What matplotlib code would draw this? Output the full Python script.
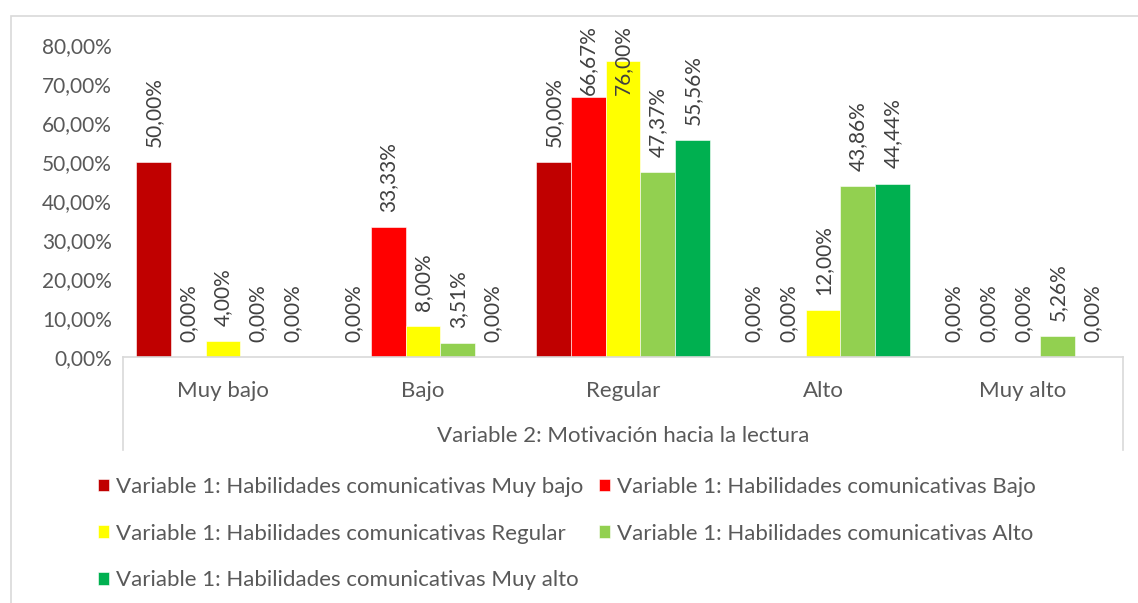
import numpy as np
import matplotlib.pyplot as plt
from matplotlib.patches import Rectangle
from matplotlib.lines import Line2D

plt.rcParams['font.family'] = ['Lato', 'DejaVu Sans']

categories = ['Muy bajo', 'Bajo', 'Regular', 'Alto', 'Muy alto']
series_names = [
    'Variable 1: Habilidades comunicativas Muy bajo',
    'Variable 1: Habilidades comunicativas Bajo',
    'Variable 1: Habilidades comunicativas Regular',
    'Variable 1: Habilidades comunicativas Alto',
    'Variable 1: Habilidades comunicativas Muy alto',
]
muy_bajo = [0.50, 0.0, 0.50, 0.0, 0.0]
bajo = [0.0, 0.3333, 0.6667, 0.0, 0.0]
regular = [0.04, 0.08, 0.76, 0.12, 0.0]
alto = [0.0, 0.0351, 0.4737, 0.4386, 0.0526]
muy_alto = [0.0, 0.0, 0.5556, 0.4444, 0.0]
colors = ['#C00000', '#FF0000', '#FFFF00', '#92D050', '#00B050']

series = [muy_bajo, bajo, regular, alto, muy_alto]

fig = plt.figure(figsize=(11.38, 6.03), dpi=100)
fig.patches.append(Rectangle((11 / 1138, -0.1), 1.2, 1.1 - 16 / 603, transform=fig.transFigure,
                             fill=False, edgecolor='#D9D9D9', linewidth=1.2))

ax = fig.add_axes([123 / 1138, 1 - 357 / 603, 1000 / 1138, 312 / 603])
x = np.arange(len(categories))
w = 0.174

def fmt(v):
    return f'{v * 100:.2f}'.replace('.', ',') + '%'

# labels that would run past the chart top get pushed down (like Excel does)
label_top = 0.852
label_len = 0.225

handles = []
for i, (vals, name, c) in enumerate(zip(series, series_names, colors)):
    pos = x + (i - 2) * w
    b = ax.bar(pos, vals, w, color=c, edgecolor='white', linewidth=0.4, label=name)
    handles.append(b)
    for px, v in zip(pos, vals):
        if v + label_len > label_top:
            ax.text(px, label_top, fmt(v), rotation=90, ha='center', va='top',
                    fontsize=15, color='#404040', clip_on=False)
        else:
            ax.annotate(fmt(v), (px, v), xytext=(0, 11), textcoords='offset points',
                        rotation=90, ha='center', va='bottom', fontsize=15,
                        color='#404040', annotation_clip=False)

ax.set_xlim(-0.5, 4.5)
ax.set_ylim(0, 0.8)
ax.set_yticks(np.arange(0, 0.81, 0.1))
ax.set_yticklabels([fmt(t) for t in np.arange(0, 0.81, 0.1)])
ax.tick_params(axis='y', length=0, labelsize=15, labelcolor='#595959', pad=8)
ax.set_xticks(x)
ax.set_xticklabels(categories)
ax.tick_params(axis='x', length=0, labelsize=16, labelcolor='#595959', pad=17)
for s in ['top', 'right', 'left']:
    ax.spines[s].set_visible(False)
ax.spines['bottom'].set_color('#D9D9D9')
ax.spines['bottom'].set_linewidth(1.2)

# category axis box
box_bottom = -(450 - 357) / 312
for xa in [0, 1]:
    ax.add_line(Line2D([xa, xa], [0, box_bottom], transform=ax.transAxes,
                       color='#D9D9D9', linewidth=1.2, clip_on=False))
ax.set_xlabel('Variable 2: Motivación hacia la lectura', fontsize=16, color='#595959', labelpad=18)

order = [0, 2, 4, 1, 3]
fig.legend([handles[i] for i in order], [series_names[i] for i in order],
           loc='upper left', bbox_to_anchor=(98 / 1138, 1 - 477 / 603), ncol=2,
           frameon=False, fontsize=16, labelcolor='#595959', handlelength=0.5,
           handleheight=0.5, handletextpad=0.32, columnspacing=0.68, labelspacing=1.2,
           borderpad=0, borderaxespad=0)

fig.savefig('out.png', dpi=100)
